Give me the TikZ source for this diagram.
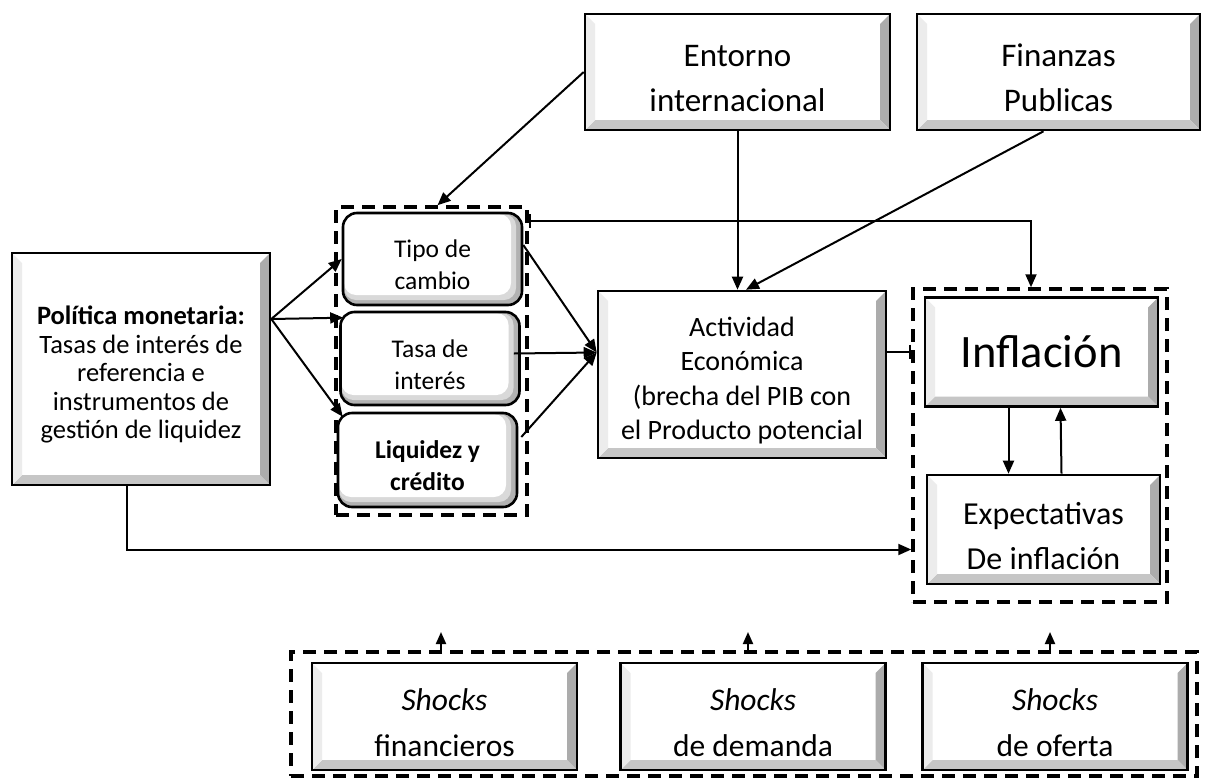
\documentclass[tikz,border=0pt]{standalone}
\usepackage{fontspec}
\setmainfont{Carlito}
\usetikzlibrary{arrows.meta}
% baja un poco el texto dentro de las cajas
\newcommand\bajar{\rule{0pt}{\dimexpr\fontcharht\font`l+12pt\relax}}

\begin{document}
\begin{tikzpicture}[x=1pt, y=-1pt,
  bevelbox/.style={draw, line width=2.6pt, fill=white, align=center, inner sep=0pt,
    path picture={
      \fill[gray!65] (path picture bounding box.north east) -- (path picture bounding box.south east)
        -- ++(-10pt,10pt) -- ([shift={(-10pt,-10pt)}]path picture bounding box.north east) -- cycle;
      \fill[gray!45] (path picture bounding box.south west) -- (path picture bounding box.south east)
        -- ++(-10pt,10pt) -- ([shift={(10pt,10pt)}]path picture bounding box.south west) -- cycle;
      \fill[gray!15] (path picture bounding box.north west) -- (path picture bounding box.south west)
        -- ++(10pt,10pt) -- ([shift={(10pt,-10pt)}]path picture bounding box.north west) -- cycle;
    }},
  roundbox/.style={draw, line width=2.6pt, rounded corners=14pt, fill=gray!60, align=center,
    inner sep=0pt, minimum width=179pt, font=\fontsize{25.5}{32}\selectfont,
    path picture={
      \fill[gray!30, rounded corners=12pt] ([shift={(1pt,-1pt)}]path picture bounding box.north west)
        rectangle ([shift={(-6pt,5pt)}]path picture bounding box.south east);
      \fill[white, rounded corners=12pt] ([shift={(1pt,-1pt)}]path picture bounding box.north west)
        rectangle ([shift={(-11pt,10pt)}]path picture bounding box.south east);
    }},
  groupbox/.style={draw, line width=3.5pt, dash pattern=on 13pt off 8pt, inner sep=0pt},
  shockbox/.style={bevelbox, minimum width=265pt, minimum height=107pt, font=\fontsize{31.5}{46}\selectfont},
  link/.style={line width=2pt, -{Triangle[length=13pt,width=11pt]}},
  barlink/.style={line width=2pt, {Bar[width=14pt]}-{Triangle[length=13pt,width=11pt]}}
]
\useasboundingbox (0,0) rectangle (1225,779);

% grupos punteados
\node[groupbox, minimum width=191pt, minimum height=308pt] (canales) at (431.5,361) {};
\node[groupbox, minimum width=254pt, minimum height=313pt] (precios) at (1040,445.5) {};
\node[groupbox, minimum width=906pt, minimum height=124pt] (choques) at (744,714) {};

% cajas
\node[bevelbox, minimum width=305pt, minimum height=116pt, font=\fontsize{33}{45}\selectfont]
  (entorno) at (737.5,72) {\bajar Entorno\\internacional};
\node[bevelbox, minimum width=283pt, minimum height=116pt, font=\fontsize{33}{45}\selectfont]
  (finanzas) at (1058.5,72) {\bajar Finanzas\\Publicas};
\node[bevelbox, minimum width=258pt, minimum height=232pt, font=\fontsize{26.5}{28.5}\selectfont]
  (politica) at (141,369) {\bajar\textbf{Política monetaria:}\\Tasas de interés de\\referencia e\\instrumentos de\\gestión de liquidez};
\node[roundbox, minimum height=92pt] (cambio) at (432.5,259) {\bajar Tipo de\\cambio};
\node[roundbox, minimum height=93pt] (tasa) at (430,358.5) {\bajar Tasa de\\interés};
\node[roundbox, minimum height=94pt] (credito) at (427.5,460) {\bajar\textbf{Liquidez y}\\\textbf{crédito}};
\node[bevelbox, minimum width=288pt, minimum height=167pt, font=\fontsize{28}{34.5}\selectfont]
  (actividad) at (742,374.5) {\bajar Actividad\\Económica\\(brecha del PIB con\\el Producto potencial};
\node[bevelbox, minimum width=233pt, minimum height=109pt, font=\fontsize{46.5}{50}\selectfont]
  (inflacion) at (1041.5,352) {Inflación};
\node[bevelbox, minimum width=233pt, minimum height=109pt, font=\fontsize{32}{45}\selectfont]
  (expectativas) at (1043.5,529.5) {\bajar Expectativas\\De inflación};
\node[shockbox] (financieros) at (444.5,716.5) {\bajar\textit{Shocks}\\financieros};
\node[shockbox] (demanda) at (753,716.5) {\bajar\textit{Shocks}\\de demanda};
\node[shockbox] (oferta) at (1055,716.5) {\bajar\textit{Shocks}\\de oferta};

% flechas
\draw[link] (entorno.west) -- ([xshift=6pt]canales.north);
\draw[link] (entorno.south) -- (entorno.south |- actividad.north);
\draw[link] ([xshift=-15pt]finanzas.south) -- ([xshift=4pt]actividad.north);
\draw[barlink] ([yshift=-9pt]canales.east |- cambio.north) -| ([xshift=-9pt]precios.north);

\draw[link] ([yshift=50pt]politica.east) -- (cambio.west);
\draw[link] ([yshift=50pt]politica.east) -- ([xshift=4pt,yshift=-7pt]tasa.north west);
\draw[link] ([yshift=50pt]politica.east) -- ([xshift=6pt,yshift=-5pt]credito.north west);

\draw[link] ([yshift=14pt]cambio.east) -- ([yshift=22pt]actividad.west);
\draw[link] ([xshift=-7pt,yshift=5pt]tasa.east) -- ([yshift=22pt]actividad.west);
\draw[link] ([xshift=3pt,yshift=23pt]credito.east) -- ([yshift=22pt]actividad.west);

\draw[line width=2pt, -{Bar[width=14pt]}] ([yshift=23pt]actividad.east) -- ([yshift=23pt]actividad.east -| precios.west);
\draw[link] ([xshift=-33pt]inflacion.south) -- ([xshift=-35pt]expectativas.north);
\draw[link] ([xshift=18pt]expectativas.north) -- ([xshift=19pt]inflacion.south);
\draw[link] ([xshift=-14pt]politica.south) |- ([yshift=-104pt]precios.west);

\coordinate (sube1) at (441,632);
\coordinate (sube2) at (748,632);
\coordinate (sube3) at (1050,632);
\foreach \i in {1,2,3}
  \draw[line width=2pt, -{Triangle[length=12pt,width=10pt]}] ([yshift=-3pt]choques.north -| sube\i) -- (sube\i);
\end{tikzpicture}
\end{document}
